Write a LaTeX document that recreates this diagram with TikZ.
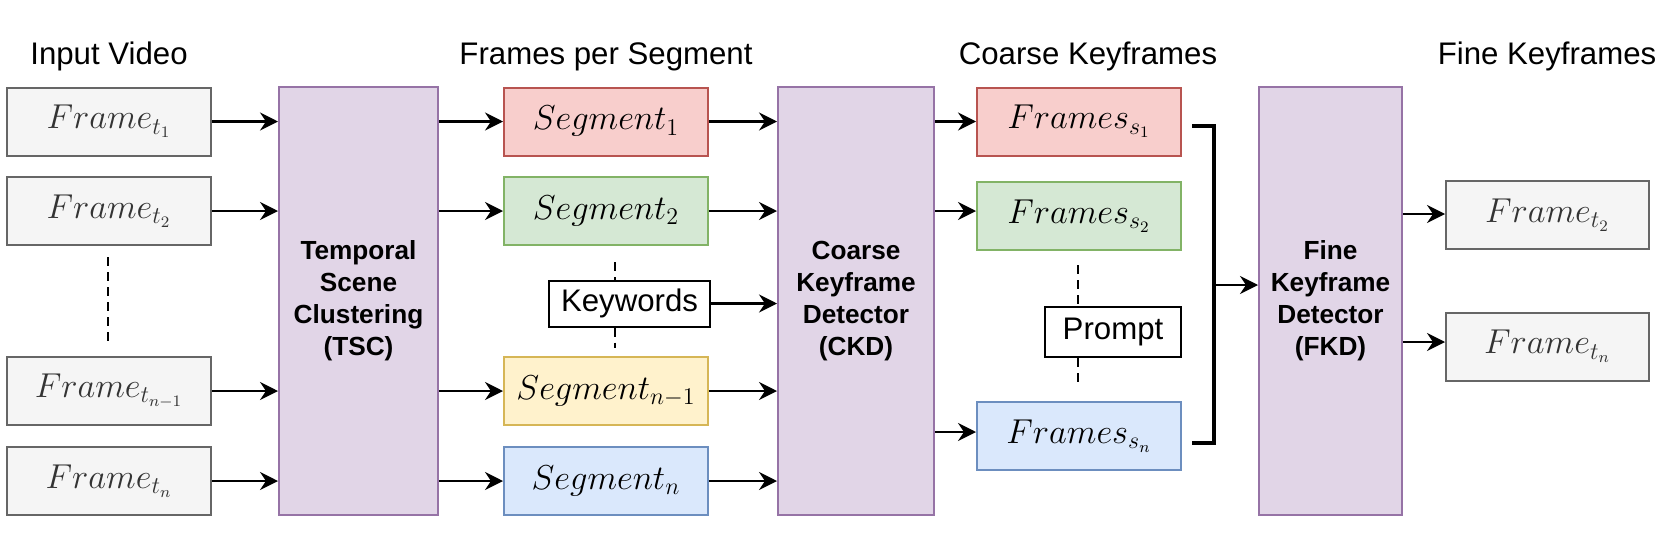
\documentclass[tikz,border=0pt]{standalone}
\usepackage{fontspec}
\setsansfont{Liberation Sans}
\usetikzlibrary{arrows.meta}
\definecolor{gfill}{HTML}{F5F5F5}
\definecolor{gstroke}{HTML}{666666}
\definecolor{gtext}{HTML}{333333}
\definecolor{rfill}{HTML}{F8CECC}
\definecolor{rstroke}{HTML}{B85450}
\definecolor{grfill}{HTML}{D5E8D4}
\definecolor{grstroke}{HTML}{82B366}
\definecolor{yfill}{HTML}{FFF2CC}
\definecolor{ystroke}{HTML}{D6B656}
\definecolor{bfill}{HTML}{DAE8FC}
\definecolor{bstroke}{HTML}{6C8EBF}
\definecolor{pfill}{HTML}{E1D5E7}
\definecolor{pstroke}{HTML}{9673A6}
\begin{document}
\begin{tikzpicture}[x=0.5pt,y=-0.5pt,
  box/.style={draw, line width=1pt, inner sep=0pt, minimum width=102pt, minimum height=34pt,
    font=\fontsize{16.5}{20}\selectfont},
  gbox/.style={box, draw=gstroke, fill=gfill, text=gtext},
  rbox/.style={box, draw=rstroke, fill=rfill},
  grbox/.style={box, draw=grstroke, fill=grfill},
  ybox/.style={box, draw=ystroke, fill=yfill},
  bbox/.style={box, draw=bstroke, fill=bfill},
  purp/.style={draw=pstroke, fill=pfill, line width=1pt, inner sep=0pt, minimum height=214pt,
    align=center, font=\sffamily\bfseries\fontsize{13.1}{16}\selectfont},
  wbox/.style={draw=black, fill=white, line width=1pt, inner sep=0pt, minimum height=23pt,
    font=\sffamily\fontsize{15.6}{18}\selectfont},
  title/.style={anchor=base, inner sep=0pt, font=\sffamily\fontsize{15.6}{18}\selectfont},
  arr/.style={-{Stealth[length=9pt,width=9pt,inset=3pt]}, line width=1.15pt},
  mydash/.style={line width=1pt, dash pattern=on 4.5pt off 3pt},
  bracket/.style={line width=2pt}
]
\useasboundingbox (0,0) rectangle (1660,536);

% titles
\node[title] (t1) at (109,64) {Input Video};
\node[title] (t2) at (606,64) {Frames per Segment};
\node[title] (t3) at (1088,64) {Coarse Keyframes};
\node[title] (t4) at (1547,64) {Fine Keyframes};

% left frames
\node[gbox] (f1) at (109,121.5) {$Frame_{t_1}$};
\node[gbox] (f2) at (109,211) {$Frame_{t_2}$};
\node[gbox] (f3) at (109,391) {$Frame_{t_{n-1}}$};
\node[gbox] (f4) at (109,481) {$Frame_{t_n}$};
\coordinate (ld1) at (108,257);
\coordinate (ld2) at (108,343);
\draw[mydash] (ld1) -- (ld2);

% TSC
\node[purp, minimum width=79.5pt] (tsc) at (358.5,301) {Temporal\\Scene\\Clustering\\(TSC)};

% segments
\node[rbox] (s1) at (606,121.5) {$Segment_1$};
\node[grbox] (s2) at (606,211) {$Segment_2$};
\node[ybox] (s3) at (606,391) {$Segment_{n-1}$};
\node[bbox] (s4) at (606,481) {$Segment_n$};
\node[wbox, minimum width=80.5pt] (kw) at (629.5,303.5) {Keywords};
\coordinate (kd1) at (615,262);
\coordinate (kd2) at (615,348);
\draw[mydash] (kd1) -- (kd1 |- kw.north);
\draw[mydash] (kd1 |- kw.south) -- (kd2);

% CKD
\node[purp, minimum width=78pt] (ckd) at (856,301) {Coarse\\Keyframe\\Detector\\(CKD)};

% coarse keyframes
\node[rbox] (c1) at (1079,121.5) {$Frames_{s_1}$};
\node[grbox] (c2) at (1079,216) {$Frames_{s_2}$};
\node[bbox] (c3) at (1079,436) {$Frames_{s_n}$};
\node[wbox, minimum width=68pt, minimum height=25pt] (pr) at (1113,332) {Prompt};
\coordinate (pd1) at (1078,265);
\coordinate (pd2) at (1078,388);
\draw[mydash] (pd1) -- (pd1 |- pr.north);
\draw[mydash] (pd1 |- pr.south) -- (pd2);

% bracket
\coordinate (b1) at (1192,126);
\coordinate (b2) at (1214,126);
\coordinate (b3) at (1214,443);
\coordinate (b4) at (1192,443);
\coordinate (bm) at (1214,285);
\draw[bracket] (b1) -- (b2) -- (b3) -- (b4);

% FKD
\node[purp, minimum width=71.5pt] (fkd) at (1330.5,301) {Fine\\Keyframe\\Detector\\(FKD)};

% fine keyframes
\node[gbox, minimum width=101.5pt] (o1) at (1547.5,215) {$Frame_{t_2}$};
\node[gbox, minimum width=101.5pt] (o2) at (1547.5,346.5) {$Frame_{t_n}$};

% arrows
\foreach \n in {f1,f2,f3,f4} \draw[arr] (\n.east) -- (\n.east -| tsc.west);
\foreach \n in {s1,s2,s3,s4} \draw[arr] (s1.west |- \n) ++(0,0) coordinate (tmp) (tmp -| tsc.east) -- (\n.west);
\foreach \n in {s1,s2,s3,s4} \draw[arr] (\n.east) -- (\n.east -| ckd.west);
\draw[arr] (kw.east) -- (kw.east -| ckd.west);
\draw[arr] (ckd.east |- c1) -- (c1.west);
\draw[arr] (ckd.east |- 0,211) -- (c2.west |- 0,211);
\draw[arr] (ckd.east |- 0,432) -- (c3.west |- 0,432);
\draw[arr] (bm) -- (bm -| fkd.west);
\draw[arr] (fkd.east |- 0,214) -- (o1.west |- 0,214);
\draw[arr] (fkd.east |- 0,342) -- (o2.west |- 0,342);
\end{tikzpicture}
\end{document}
